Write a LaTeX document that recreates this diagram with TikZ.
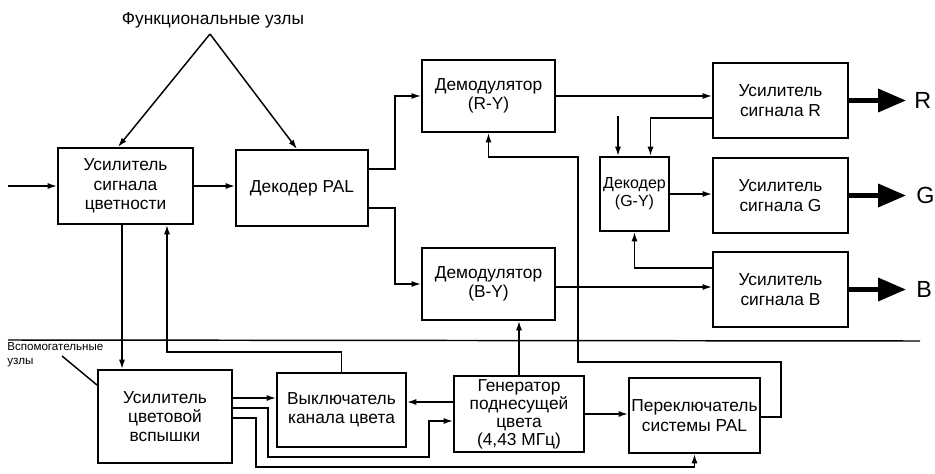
\documentclass[tikz,border=0pt]{standalone}
\usepackage{fontspec}
\setmainfont{Liberation Sans}
\usetikzlibrary{arrows.meta,calc}

\begin{document}
\begin{tikzpicture}[x=0.75pt,y=-0.75pt,
    box/.style={draw,line width=1.5pt,align=center,inner sep=1pt,
      font=\fontsize{13}{14.5}\selectfont},
    amps/.style={box,minimum width=101.25pt,minimum height=56.25pt},
    demod/.style={box,minimum width=99.75pt,minimum height=54pt},
    conn/.style={line width=1.1pt,-{Latex[length=7pt,width=4.5pt]}},
    wire/.style={line width=1.1pt},
    outarr/.style={line width=3.5pt,-{Triangle[length=21pt,width=17pt]}},
    rgb/.style={anchor=west,inner sep=0pt,font=\fontsize{17.5}{17.5}\selectfont}]
  \useasboundingbox (0,0) rectangle (935,474);

  % functional blocks
  \node[box,minimum width=101.25pt,minimum height=57pt] (amp) at (125.5,186) {Усилитель\\сигнала\\цветности};
  \node[box,minimum width=99pt,minimum height=57pt] (dec) at (302,188) {Декодер PAL};
  \node[demod] (dRY) at (488.5,96) {Демодулятор\\(R-Y)};
  \node[demod] (dBY) at (488.5,284) {Демодулятор\\(B-Y)};
  \node[amps] (uR) at (780.5,100.5) {Усилитель\\сигнала R};
  \node[amps] (uG) at (780.5,195.5) {Усилитель\\сигнала G};
  \node[amps] (uB) at (780.5,289.5) {Усилитель\\сигнала B};
  \node[box,minimum width=51.75pt,minimum height=55.5pt,inner sep=0pt,
    font=\fontsize{12}{13.5}\selectfont] (dGY) at (634.5,194) {Декодер\\(G-Y)};

  % auxiliary blocks
  \node[box,minimum width=100.5pt,minimum height=69.75pt] (burst) at (165,416.5) {Усилитель\\цветовой\\вспышки};
  \node[box,minimum width=96.75pt,minimum height=55.5pt] (kill) at (341.5,410) {Выключатель\\канала цвета};
  \node[box,minimum width=97.5pt,minimum height=57pt,
    font=\fontsize{13}{13.5}\selectfont] (gen) at (519,414) {Генератор\\поднесущей\\цвета\\(4,43 МГц)};
  \node[box,minimum width=98.25pt,minimum height=56.25pt,inner sep=0pt] (sw) at (694.5,415.5) {Переключатель\\системы PAL};

  % labels
  \node[font=\fontsize{13}{14.5}\selectfont] (fu) at (213,20) {Функциональные узлы};
  \coordinate (apex) at (210,34);
  \draw[conn] (apex) -- ($(amp.north)+(-7.5,0)$);
  \draw[conn] (apex) -- ($(dec.north)+(-5,0)$);
  \node[anchor=north west,inner sep=0pt,align=left,
    font=\fontsize{8.7}{11}\selectfont] (vu) at (7,342) {Вспомогательные\\узлы};
  \coordinate (vul) at (62,356);
  \draw[wire] (vul) -- ($(burst.north west)+(0,16)$);
  \draw[wire] (8,340) -- (920,341);

  % signal path
  \coordinate (in) at (8,186);
  \draw[conn] (in) -- (amp.west);
  \draw[conn] (amp.east) -- (amp.east -| dec.west);
  \draw[conn] ($(dec.east)+(0,-19)$) -- ++(26,0) |- (dRY.west);
  \draw[conn] ($(dec.east)+(0,20)$) -- ++(26,0) |- (dBY.west);
  \draw[conn] (dRY.east) -- (dRY.east -| uR.west);
  \draw[conn] ($(dBY.east)+(0,3)$) coordinate (b1) -- (b1 -| uB.west);
  \draw[conn] ($(uR.west)+(0,17.5)$) -| ($(dGY.north)+(16,0)$);
  \coordinate (gyin) at (618,116);
  \draw[conn] (gyin) -- (gyin |- dGY.north);
  \draw[conn] (dGY.east) -- (dGY.east -| uG.west);
  \draw[conn] ($(uB.west)+(0,-21.5)$) -| (dGY.south);

  % outputs
  \node[rgb] (lR) at ($(uR.east)+(65,0)$) {R};
  \node[rgb] (lG) at ($(uG.east)+(67,0)$) {G};
  \node[rgb] (lB) at ($(uB.east)+(67,0)$) {B};
  \draw[outarr] (uR.east) -- ($(lR.west)+(-8,0)$);
  \draw[outarr] (uG.east) -- ($(lG.west)+(-10,0)$);
  \draw[outarr] (uB.east) -- ($(lB.west)+(-10,0)$);

  % auxiliary connections
  \draw[conn] ($(amp.south)+(-3.5,0)$) coordinate (a1) -- (a1 |- burst.north);
  \draw[conn] (kill.north) -- ++(0,-20) -| ($(amp.south)+(41.5,0)$);
  \draw[conn] (gen.north) -- (gen.north |- dBY.south);
  \draw[conn] ($(sw.east)+(0,1.5)$) -| ++(20,-55) -| ++(-203,-205) -| (dRY.south);
  \draw[conn] ($(gen.west)+(0,-12)$) coordinate (g1) -- (g1 -| kill.east);
  \draw[conn] (gen.east) -- (gen.east -| sw.west);
  \draw[conn] ($(burst.east)+(0,-18.5)$) coordinate (k1) -- (k1 -| kill.west);
  \draw[conn] ($(burst.east)+(0,-8.5)$) -| ++(35,49) -| ++(161,-36) -- ($(gen.west)+(0,7)$);
  \draw[conn] ($(burst.east)+(0,1.5)$) -| ++(23,49) -| (sw.south);
\end{tikzpicture}
\end{document}
